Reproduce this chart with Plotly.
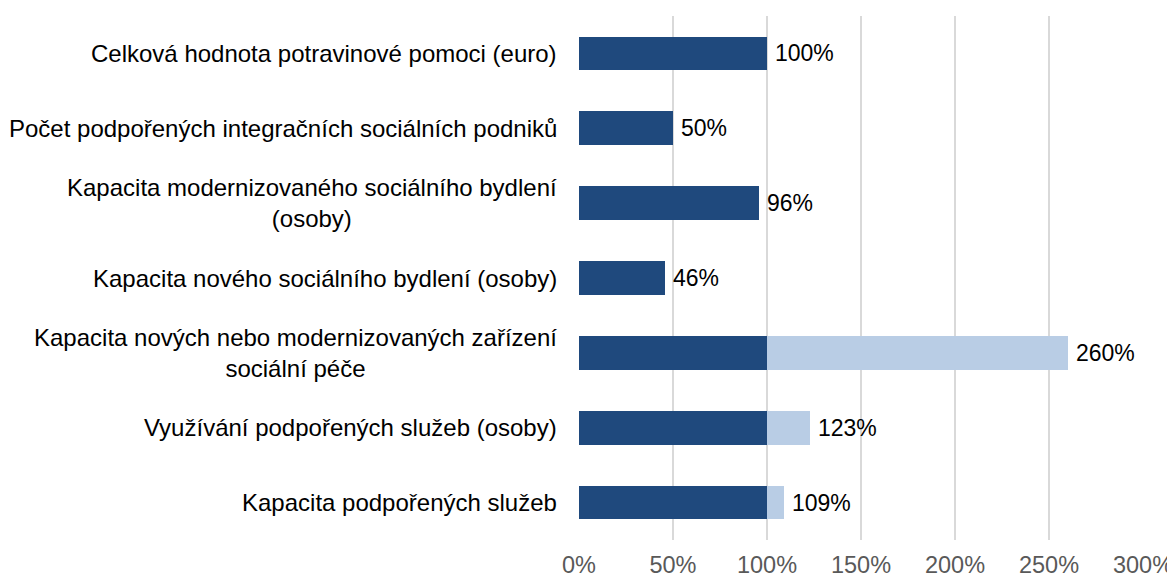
import plotly.graph_objects as go

# categories from top to bottom
categories = [
    "Celková hodnota potravinové pomoci (euro)",
    "Počet podpořených integračních sociálních podniků",
    "Kapacita modernizovaného sociálního bydlení<br>(osoby)",
    "Kapacita nového sociálního bydlení (osoby)",
    "Kapacita nových nebo modernizovaných zařízení<br>sociální péče",
    "Využívání podpořených služeb (osoby)",
    "Kapacita podpořených služeb",
]
values = [100, 50, 96, 46, 260, 123, 109]
tick_vals = [0, 50, 100, 150, 200, 250, 300]
tick_text = ["0%", "50%", "100%", "150%", "200%", "250%", "300%"]

dark_part = [min(v, 100) for v in values]
over_part = [max(v - 100, 0) for v in values]
labels = [f"{v}%" for v in values]

DARK = "#1F497D"
LIGHT = "#B9CDE5"
FONT = "Liberation Sans, Arial, sans-serif"

fig = go.Figure()
fig.add_trace(go.Bar(
    y=categories, x=dark_part, orientation="h",
    marker=dict(color=DARK, line=dict(width=0)),
    width=0.45, hoverinfo="skip",
))
fig.add_trace(go.Bar(
    y=categories, x=over_part, orientation="h",
    marker=dict(color=LIGHT, line=dict(width=0)),
    width=0.45, hoverinfo="skip",
))

# value labels just right of each bar end
for cat, v, lab in zip(categories, values, labels):
    fig.add_annotation(
        x=v, y=cat, xref="x", yref="y", text=lab, showarrow=False,
        xanchor="left", yanchor="middle", xshift=6,
        font=dict(size=23, color="black", family=FONT),
    )

# category labels, centred line by line like the original
for cat in categories:
    fig.add_annotation(
        x=0, xref="paper", y=cat, yref="y",
        text=cat, showarrow=False,
        xanchor="right", yanchor="middle", align="center",
        xshift=-20,
        font=dict(size=24, color="black", family=FONT),
    )

# the page adds an 8px body margin, so the figure is sized to fit the window
fig.update_layout(
    barmode="stack",
    width=1167, height=567,
    margin=dict(l=571, r=32, t=8, b=35),
    plot_bgcolor="white", paper_bgcolor="white",
    showlegend=False,
    font=dict(family=FONT),
)
fig.update_xaxes(
    range=[0, 300], tickvals=tick_vals, ticktext=tick_text,
    showgrid=True, gridcolor="#D9D9D9", gridwidth=1.5,
    zeroline=False, showline=False, automargin=False,
    tickfont=dict(size=23.5, color="#595959", family=FONT),
    ticklabelstandoff=8,
    fixedrange=True,
)
fig.update_yaxes(
    categoryorder="array", categoryarray=categories[::-1],
    showticklabels=False, showgrid=False, zeroline=False,
    automargin=False, fixedrange=True,
)

fig.write_html("out.html")
